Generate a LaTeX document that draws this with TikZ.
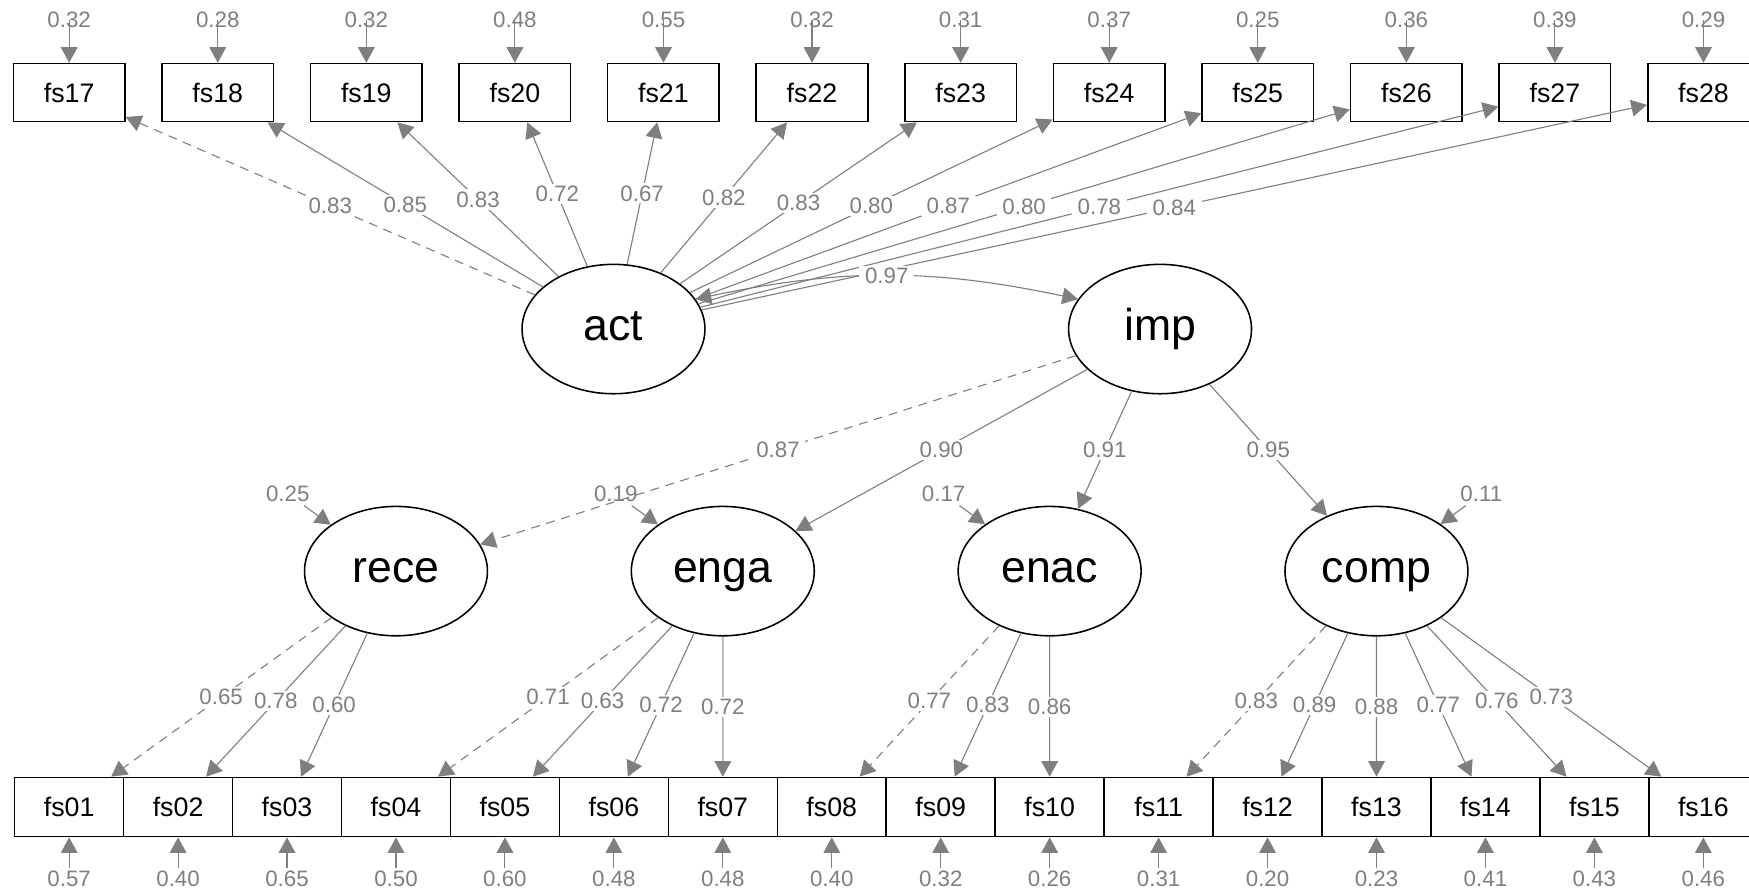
\documentclass[tikz,border=0pt]{standalone}
\usepackage{fontspec}
\setmainfont{Liberation Sans}
\usetikzlibrary{arrows.meta,shapes.geometric}
\definecolor{eg}{HTML}{7F7F7F}
\pgfdeclarelayer{bg}
\pgfsetlayers{bg,main}
\tikzset{
  man/.style={draw=black, line width=1.4pt, rectangle, minimum width=100pt, minimum height=52pt, inner sep=0pt, fill=white, font=\fontsize{24}{24}\selectfont},
  manb/.style={man, minimum width=97.67pt, minimum height=53pt},
  lat/.style={draw=black, ellipse, line width=1.4pt, minimum width=164pt, minimum height=116pt, inner sep=0pt, fill=white, font=\fontsize{40}{40}\selectfont, text height=21pt, text depth=0pt},
  edge/.style={draw=eg, line width=1pt, -{Triangle[length=14pt,width=15pt]}},
  cov/.style={draw=eg, line width=1pt, {Triangle[length=14pt,width=15pt]}-{Triangle[length=14pt,width=15pt]}},
  fixed/.style={dash pattern=on 8pt off 6pt},
  lab/.style={fill=white, inner xsep=5pt, inner ysep=2pt, text=eg, font=\fontsize{20}{20}\selectfont},
  reslab/.style={inner sep=3pt, text=eg, font=\fontsize{20}{20}\selectfont}
}
\begin{document}
\begin{tikzpicture}[x=1pt,y=1pt]
\useasboundingbox (0,0) rectangle (1568,-800);
\clip (0,0) rectangle (1568,-800);
% top manifest row
\foreach \n/\r [count=\i from 0] in {17/0.32,18/0.28,19/0.32,20/0.48,21/0.55,22/0.32,23/0.31,24/0.37,25/0.25,26/0.36,27/0.39,28/0.29}{
  \node[man] (fs\n) at ({62+133.2*\i},-83) {fs\n};
  \node[reslab] (t\n) at ({62+133.2*\i},-18) {\r};
  \begin{pgfonlayer}{bg}
    \draw[edge] (t\n.center) -- (fs\n);
  \end{pgfonlayer}
}
% bottom manifest row
\foreach \n/\r [count=\i from 0] in {01/0.57,02/0.40,03/0.65,04/0.50,05/0.60,06/0.48,07/0.48,08/0.40,09/0.32,10/0.26,11/0.31,12/0.20,13/0.23,14/0.41,15/0.43,16/0.46}{
  \node[manb] (fs\n) at ({62+97.67*\i},-723.5) {fs\n};
  \node[reslab] (b\n) at ({62+97.67*\i},-788) {\r};
  \draw[edge] (b\n.north) -- (fs\n);
}
% latents
\node[lat] (act) at (550,-295) {act};
\node[lat] (imp) at (1040,-295) {imp};
\node[lat] (rece) at (355,-512) {rece};
\node[lat] (enga) at (648,-512) {enga};
\node[lat] (enac) at (941,-512) {enac};
\node[lat] (comp) at (1234,-512) {comp};
% latent residuals
\node[reslab] (r1) at (258,-443) {0.25};
\node[reslab] (r2) at (552,-443) {0.19};
\node[reslab] (r3) at (846,-443) {0.17};
\node[reslab] (r4) at (1328,-443) {0.11};
\draw[edge] (r1) -- (rece);
\draw[edge] (r2) -- (enga);
\draw[edge] (r3) -- (enac);
\draw[edge] (r4) -- (comp);
% act loadings
\draw[edge,fixed] (act) -- node[lab]{0.83} (fs17);
\foreach \n/\v in {18/0.85,19/0.83,20/0.72,21/0.67,22/0.82,23/0.83,24/0.80,25/0.87,26/0.80,27/0.78,28/0.84}{
  \draw[edge] (act) -- node[lab]{\v} (fs\n);
}
% covariance
\draw[cov] (act.20) to[out=12,in=168] node[lab]{0.97} (imp.160);
% imp loadings
\draw[edge,fixed] (imp) -- node[lab]{0.87} (rece);
\draw[edge] (imp) -- node[lab]{0.90} (enga);
\draw[edge] (imp) -- node[lab]{0.91} (enac);
\draw[edge] (imp) -- node[lab]{0.95} (comp);
% rece
\draw[edge,fixed] (rece) -- node[lab]{0.65} (fs01);
\draw[edge] (rece) -- node[lab]{0.78} (fs02);
\draw[edge] (rece) -- node[lab]{0.60} (fs03);
% enga
\draw[edge,fixed] (enga) -- node[lab]{0.71} (fs04);
\draw[edge] (enga) -- node[lab]{0.63} (fs05);
\draw[edge] (enga) -- node[lab]{0.72} (fs06);
\draw[edge] (enga) -- node[lab]{0.72} (fs07);
% enac
\draw[edge,fixed] (enac) -- node[lab]{0.77} (fs08);
\draw[edge] (enac) -- node[lab]{0.83} (fs09);
\draw[edge] (enac) -- node[lab]{0.86} (fs10);
% comp
\draw[edge,fixed] (comp) -- node[lab]{0.83} (fs11);
\draw[edge] (comp) -- node[lab]{0.89} (fs12);
\draw[edge] (comp) -- node[lab]{0.88} (fs13);
\draw[edge] (comp) -- node[lab]{0.77} (fs14);
\draw[edge] (comp) -- node[lab]{0.76} (fs15);
\draw[edge] (comp) -- node[lab]{0.73} (fs16);
\end{tikzpicture}
\end{document}
